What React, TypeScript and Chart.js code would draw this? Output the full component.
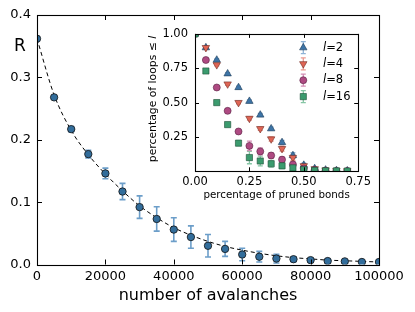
import React, { useEffect, useRef } from 'react';
import { Chart, registerables } from 'chart.js';

Chart.register(...registerables);

const FONT = "'DejaVu Sans', sans-serif";

// ---- main chart data ----
const AVALANCHES = [0, 5000, 10000, 15000, 20000, 25000, 30000, 35000, 40000, 45000, 50000,
  55000, 60000, 65000, 70000, 75000, 80000, 85000, 90000, 95000, 100000];
const R_VALUES = [0.362, 0.268, 0.217, 0.177, 0.146, 0.117, 0.092, 0.073, 0.056, 0.044, 0.030,
  0.025, 0.016, 0.0125, 0.0095, 0.0085, 0.007, 0.0055, 0.005, 0.004, 0.004];
const R_ERRORS = [0.002, 0.003, 0.004, 0.006, 0.0085, 0.013, 0.018, 0.0195, 0.019, 0.018, 0.018,
  0.012, 0.010, 0.0085, 0.007, 0.004, 0.003, 0.003, 0.002, 0.002, 0.002];
const R_FIT = [0.362, 0.272, 0.215, 0.176, 0.145, 0.118, 0.094, 0.075, 0.059, 0.047, 0.037,
  0.029, 0.023, 0.018, 0.014, 0.011, 0.009, 0.007, 0.006, 0.005, 0.004];
const MAIN_X_TICKS = [0, 20000, 40000, 60000, 80000, 100000];
const MAIN_Y_TICKS = [0, 0.1, 0.2, 0.3, 0.4];

// ---- inset data ----
const PRUNED = [0, 0.05, 0.10, 0.15, 0.20, 0.25, 0.30, 0.35, 0.40, 0.45, 0.50, 0.55, 0.60, 0.65, 0.70];
const LOOPS_L2 = [1.0, 0.90, 0.81, 0.71, 0.61, 0.51, 0.41, 0.31, 0.21, 0.115, 0.045, 0.02, 0.01, 0.006, 0.004];
const LOOPS_L4 = [1.0, 0.90, 0.775, 0.635, 0.50, 0.385, 0.31, 0.235, 0.165, 0.10, 0.04, 0.018, 0.009, 0.005, 0.003];
const LOOPS_L8 = [1.0, 0.81, 0.61, 0.44, 0.29, 0.185, 0.145, 0.115, 0.085, 0.05, 0.02, 0.01, 0.005, 0.003, 0.002];
const LOOPS_L16 = [1.0, 0.73, 0.50, 0.34, 0.205, 0.10, 0.075, 0.055, 0.04, 0.025, 0.012, 0.006, 0.004, 0.003, 0.002];
const ERR_L2 = [0, 0.008, 0.008, 0.008, 0.01, 0.01, 0.012, 0.012, 0.015, 0.02, 0.015, 0.008, 0.005, 0.003, 0.002];
const ERR_L4 = [0, 0.008, 0.008, 0.01, 0.01, 0.012, 0.012, 0.015, 0.018, 0.02, 0.015, 0.008, 0.005, 0.003, 0.002];
const ERR_L8 = [0, 0.008, 0.01, 0.012, 0.015, 0.035, 0.025, 0.02, 0.02, 0.02, 0.012, 0.006, 0.004, 0.003, 0.002];
const ERR_L16 = [0, 0.008, 0.01, 0.012, 0.018, 0.045, 0.035, 0.025, 0.02, 0.015, 0.01, 0.005, 0.003, 0.002, 0.002];
const LOOP_LABELS = ['2', '4', '8', '16'];
const INSET_X_TICKS = [0, 0.25, 0.5, 0.75];
const INSET_Y_TICKS = [0.25, 0.5, 0.75, 1.0];

const SERIES = [
  { values: LOOPS_L2, errors: ERR_L2, shape: 'triangle', rot: 0, r: 4.3, fill: '#3d74a6', edge: '#1d3a57', err: '#8fb3d6' },
  { values: LOOPS_L4, errors: ERR_L4, shape: 'triangle', rot: 180, r: 4.3, fill: '#df6555', edge: '#6e2a22', err: '#eb9a90' },
  { values: LOOPS_L8, errors: ERR_L8, shape: 'circle', rot: 0, r: 3.5, fill: '#ae4a82', edge: '#55203f', err: '#d28fb5' },
  { values: LOOPS_L16, errors: ERR_L16, shape: 'rect', rot: 0, r: 4.4, fill: '#3b9b6e', edge: '#1c4f36', err: '#86c6a5' },
];

const errorBarPlugin = {
  id: 'errbars',
  beforeDatasetsDraw(chart: any) {
    const ctx = chart.ctx;
    const xs = chart.scales.x;
    const ys = chart.scales.y;
    const a = chart.chartArea;
    ctx.save();
    ctx.beginPath();
    ctx.rect(a.left, a.top, a.right - a.left, a.bottom - a.top);
    ctx.clip();
    chart.data.datasets.forEach((ds: any) => {
      if (!ds.errors) return;
      ctx.strokeStyle = ds.errorColor;
      ctx.lineWidth = ds.errorWidth || 1.5;
      const cap = ds.capHalf || 3;
      ds.data.forEach((p: any, j: number) => {
        const e = ds.errors[j];
        if (!e) return;
        const px = xs.getPixelForValue(p.x);
        const y1 = ys.getPixelForValue(p.y - e);
        const y2 = ys.getPixelForValue(p.y + e);
        ctx.beginPath();
        ctx.moveTo(px, y1);
        ctx.lineTo(px, y2);
        ctx.moveTo(px - cap, y1);
        ctx.lineTo(px + cap, y1);
        ctx.moveTo(px - cap, y2);
        ctx.lineTo(px + cap, y2);
        ctx.stroke();
      });
    });
    ctx.restore();
  },
};

const framePlugin = {
  id: 'frame',
  afterDraw(chart: any, _args: any, opts: any) {
    const ctx = chart.ctx;
    const a = chart.chartArea;
    const len = opts.tickLen || 5;
    ctx.save();
    ctx.strokeStyle = '#000';
    ctx.lineWidth = 1;
    ctx.beginPath();
    chart.scales.x.ticks.forEach((t: any) => {
      const px = Math.round(chart.scales.x.getPixelForValue(t.value)) + 0.5;
      ctx.moveTo(px, a.bottom);
      ctx.lineTo(px, a.bottom - len);
      ctx.moveTo(px, a.top);
      ctx.lineTo(px, a.top + len);
    });
    chart.scales.y.ticks.forEach((t: any) => {
      const py = Math.round(chart.scales.y.getPixelForValue(t.value)) + 0.5;
      ctx.moveTo(a.left, py);
      ctx.lineTo(a.left + len, py);
      ctx.moveTo(a.right, py);
      ctx.lineTo(a.right - len, py);
    });
    ctx.stroke();
    ctx.lineWidth = 1.1;
    ctx.strokeRect(Math.round(a.left) + 0.5, Math.round(a.top) + 0.5,
      Math.round(a.right - a.left), Math.round(a.bottom - a.top));
    ctx.restore();
  },
};

const rLabelPlugin = {
  id: 'rlabel',
  afterDraw(chart: any) {
    const ctx = chart.ctx;
    ctx.save();
    ctx.fillStyle = '#000';
    ctx.font = `17px ${FONT}`;
    ctx.textBaseline = 'alphabetic';
    ctx.fillText('R', 14, 51);
    ctx.restore();
  },
};

function drawMarker(ctx: any, shape: string, rot: number, x: number, y: number, r: number) {
  ctx.beginPath();
  if (shape === 'circle') {
    ctx.arc(x, y, r, 0, Math.PI * 2);
  } else if (shape === 'rect') {
    const s = r * Math.SQRT1_2;
    ctx.rect(x - s, y - s, 2 * s, 2 * s);
  } else {
    const base = (rot * Math.PI) / 180;
    for (let k = 0; k < 3; k++) {
      const ang = base + (k * 2 * Math.PI) / 3;
      const vx = x + Math.sin(ang) * r;
      const vy = y - Math.cos(ang) * r;
      if (k === 0) ctx.moveTo(vx, vy); else ctx.lineTo(vx, vy);
    }
    ctx.closePath();
  }
  ctx.fill();
  ctx.stroke();
}

const insetDecorPlugin = {
  id: 'insetDecor',
  afterDraw(chart: any) {
    const ctx = chart.ctx;
    ctx.save();
    // y-axis title, rotated, with italic l
    ctx.fillStyle = '#000';
    ctx.translate(13, 79);
    ctx.rotate(-Math.PI / 2);
    const normal = `10.8px ${FONT}`;
    const italic = `italic 10.8px ${FONT}`;
    const part1 = 'percentage of loops ≤ ';
    ctx.font = normal;
    const w1 = ctx.measureText(part1).width;
    ctx.font = italic;
    const w2 = ctx.measureText('l').width;
    const start = -(w1 + w2) / 2;
    ctx.textBaseline = 'middle';
    ctx.font = normal;
    ctx.fillText(part1, start, 0);
    ctx.font = italic;
    ctx.fillText('l', start + w1, 0);
    ctx.restore();

    // legend
    ctx.save();
    const rowY = [27.7, 43.8, 60.2, 76.6];
    SERIES.forEach((s, i) => {
      const y = rowY[i];
      const mx = 163.3;
      ctx.strokeStyle = s.err;
      ctx.lineWidth = 1.3;
      ctx.beginPath();
      ctx.moveTo(mx, y - 6); ctx.lineTo(mx, y + 6);
      ctx.moveTo(mx - 2.5, y - 6); ctx.lineTo(mx + 2.5, y - 6);
      ctx.moveTo(mx - 2.5, y + 6); ctx.lineTo(mx + 2.5, y + 6);
      ctx.stroke();
      ctx.fillStyle = s.fill;
      ctx.strokeStyle = s.edge;
      ctx.lineWidth = 0.6;
      drawMarker(ctx, s.shape, s.rot, mx, y, s.r);
      ctx.fillStyle = '#000';
      ctx.textBaseline = 'middle';
      ctx.font = `italic 11.5px ${FONT}`;
      const tx = 183;
      ctx.fillText('l', tx, y);
      const lw = ctx.measureText('l').width;
      ctx.font = `11.5px ${FONT}`;
      ctx.fillText('=' + LOOP_LABELS[i], tx + lw, y);
    });
    ctx.restore();
  },
};

export default function App() {
  const mainRef = useRef<HTMLCanvasElement | null>(null);
  const insetRef = useRef<HTMLCanvasElement | null>(null);

  useEffect(() => {
    Chart.defaults.font.family = FONT;
    Chart.defaults.color = '#000';

    const main = new Chart(mainRef.current as HTMLCanvasElement, {
      type: 'scatter',
      data: {
        datasets: [
          {
            label: 'R',
            data: AVALANCHES.map((x, i) => ({ x, y: R_VALUES[i] })),
            errors: R_ERRORS,
            errorColor: '#6c9ec9',
            errorWidth: 1.6,
            capHalf: 3,
            pointRadius: 3.7,
            pointBackgroundColor: '#326d9b',
            pointBorderColor: '#111',
            pointBorderWidth: 0.8,
            showLine: false,
          } as any,
          {
            type: 'line',
            label: 'fit',
            data: AVALANCHES.map((x, i) => ({ x, y: R_FIT[i] })),
            borderColor: '#000',
            borderWidth: 1,
            borderDash: [4, 3],
            pointRadius: 0,
            cubicInterpolationMode: 'monotone',
            fill: false,
          } as any,
        ],
      },
      options: {
        animation: false,
        responsive: false,
        devicePixelRatio: 1,
        events: [],
        layout: { padding: { top: 15, right: 36, left: 0, bottom: 0 } },
        scales: {
          x: {
            type: 'linear',
            min: 0,
            max: 100000,
            afterFit: (s: any) => { s.height = 47.5; },
            afterBuildTicks: (s: any) => { s.ticks = MAIN_X_TICKS.map((v) => ({ value: v })); },
            ticks: { font: { size: 13 }, color: '#000', padding: 4, maxRotation: 0, autoSkip: false,
              callback: (v: any) => String(v) },
            grid: { display: false, drawTicks: false },
            border: { display: false },
            title: { display: true, text: 'number of avalanches', font: { size: 16 }, color: '#000',
              padding: { top: 0, bottom: 7 } },
          },
          y: {
            type: 'linear',
            min: 0,
            max: 0.4,
            afterFit: (s: any) => { s.width = 37; },
            afterBuildTicks: (s: any) => { s.ticks = MAIN_Y_TICKS.map((v) => ({ value: v })); },
            ticks: { font: { size: 13 }, color: '#000', padding: 6, autoSkip: false,
              callback: (v: any) => Number(v).toFixed(1) },
            grid: { display: false, drawTicks: false },
            border: { display: false },
          },
        },
        plugins: {
          legend: { display: false },
          tooltip: { enabled: false },
          frame: { tickLen: 5 },
        } as any,
      },
      plugins: [errorBarPlugin, framePlugin, rLabelPlugin],
    } as any);

    const inset = new Chart(insetRef.current as HTMLCanvasElement, {
      type: 'scatter',
      data: {
        datasets: SERIES.slice().reverse().map((s) => ({
          data: PRUNED.map((x, i) => ({ x, y: s.values[i] })),
          errors: s.errors,
          errorColor: s.err,
          errorWidth: 1.3,
          capHalf: 2.5,
          pointStyle: s.shape,
          rotation: s.rot,
          pointRadius: s.r,
          pointBackgroundColor: s.fill,
          pointBorderColor: s.edge,
          pointBorderWidth: 0.6,
          showLine: false,
        })) as any,
      },
      options: {
        animation: false,
        responsive: false,
        devicePixelRatio: 1,
        events: [],
        layout: { padding: { top: 11.7, right: 13, left: 0, bottom: 0 } },
        scales: {
          x: {
            type: 'linear',
            min: 0,
            max: 0.75,
            afterFit: (s: any) => { s.height = 38.7; },
            afterBuildTicks: (s: any) => { s.ticks = INSET_X_TICKS.map((v) => ({ value: v })); },
            ticks: { font: { size: 11.5 }, color: '#000', padding: 4, maxRotation: 0, autoSkip: false,
              callback: (v: any) => Number(v).toFixed(2) },
            grid: { display: false, drawTicks: false },
            border: { display: false },
            title: { display: true, text: 'percentage of pruned bonds', font: { size: 10.3 }, color: '#000',
              padding: { top: 0, bottom: 8 } },
          },
          y: {
            type: 'linear',
            min: 0,
            max: 1,
            afterFit: (s: any) => { s.width = 55; },
            afterBuildTicks: (s: any) => { s.ticks = INSET_Y_TICKS.map((v) => ({ value: v })); },
            ticks: { font: { size: 11.5 }, color: '#000', padding: 7, autoSkip: false,
              callback: (v: any) => Number(v).toFixed(2) },
            grid: { display: false, drawTicks: false },
            border: { display: false },
          },
        },
        plugins: {
          legend: { display: false },
          tooltip: { enabled: false },
          frame: { tickLen: 4 },
        } as any,
      },
      plugins: [errorBarPlugin, framePlugin, insetDecorPlugin],
    } as any);

    return () => {
      main.destroy();
      inset.destroy();
    };
  }, []);

  return (
    <div style={{ position: 'absolute', left: 0, top: 0, width: 415, height: 312, background: '#fff' }}>
      <canvas ref={mainRef} width={415} height={312}
        style={{ position: 'absolute', left: 0, top: 0, width: 415, height: 312 }} />
      <canvas ref={insetRef} width={235} height={190}
        style={{ position: 'absolute', left: 140, top: 20, width: 235, height: 190 }} />
    </div>
  );
}
